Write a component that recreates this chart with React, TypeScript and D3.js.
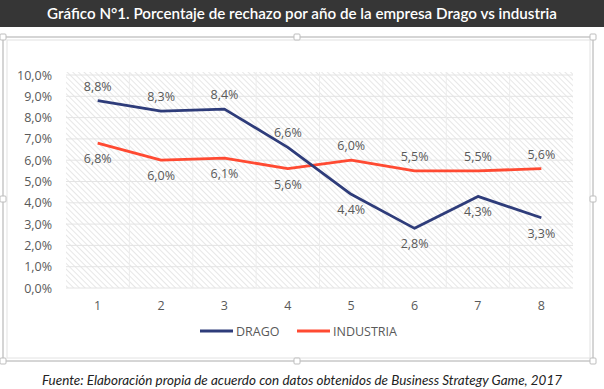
import React from "react";
import * as d3 from "d3";

const years = [1, 2, 3, 4, 5, 6, 7, 8];
const drago = [8.8, 8.3, 8.4, 6.6, 4.4, 2.8, 4.3, 3.3];
const industria = [6.8, 6.0, 6.1, 5.6, 6.0, 5.5, 5.5, 5.6];
const dragoLabelPos = ["above", "above", "above", "above", "below", "below", "below", "below"];
const industriaLabelPos = ["below", "below", "below", "below", "above", "above", "above", "above"];
const yTicks = [0, 1, 2, 3, 4, 5, 6, 7, 8, 9, 10];
const titleText = "Gráfico N°1. Porcentaje de rechazo por año de la empresa Drago vs industria";
const sourceText = "Fuente: Elaboración propia de acuerdo con datos obtenidos de Business Strategy Game, 2017";
const seriesNames = ["DRAGO", "INDUSTRIA"];

const W = 604;
const H = 389;
const plot = { left: 66, right: 573, top: 75, bottom: 288 };
const DRAGO_COLOR = "#2E3C7A";
const IND_COLOR = "#FF4A32";
const TEXT = "#595959";
const FONT = "'Open Sans', sans-serif";

const fmt = (v: number) => v.toFixed(1).replace(".", ",") + "%";

export default function App() {
  const x = d3
    .scaleBand<number>()
    .domain(years)
    .range([plot.left, plot.right]);
  const cx = (d: number) => (x(d) as number) + x.bandwidth() / 2;
  const y = d3.scaleLinear().domain([0, 10]).range([plot.bottom, plot.top]);
  const line = d3
    .line<number>()
    .x((_, i) => cx(years[i]))
    .y((d) => y(d));

  const handles = [
    [3, 37], [297, 37], [593, 37],
    [3, 199], [593, 199],
    [3, 361], [297, 361], [593, 361],
  ];

  const labels = (vals: number[], pos: string[], key: string) =>
    vals.map((v, i) => (
      <text
        key={key + i}
        x={cx(years[i])}
        y={pos[i] === "above" ? y(v) - 10 : y(v) + 20}
        textAnchor="middle"
        fontSize={12.5}
        fill={TEXT}
        fontFamily={FONT}
      >
        {fmt(v)}
      </text>
    ));

  return (
    <svg
      width={W}
      height={H}
      style={{ position: "absolute", left: 0, top: 0, background: "#fff" }}
    >
      <defs>
        <pattern id="hatch" width="4" height="4" patternUnits="userSpaceOnUse" patternTransform="rotate(-45)">
          <line x1="0" y1="0" x2="0" y2="4" stroke="#d6d6d6" strokeWidth="1.2" />
        </pattern>
      </defs>
      {/* title bar */}
      <rect x={0} y={0} width={W} height={27} fill="#363636" />
      <text
        x={W / 2}
        y={19}
        textAnchor="middle"
        fontSize={15}
        fontWeight={600}
        fill="#fff"
        fontFamily="Lato, sans-serif"
        textLength={510}
        lengthAdjust="spacingAndGlyphs"
      >
        {titleText}
      </text>

      {/* frame */}
      <rect x={3} y={37} width={590} height={324} fill="#fff" stroke="#c8c8c8" strokeWidth={1.5} />
      <rect x={7} y={40} width={583} height={318} fill="none" stroke="#e2e2e2" strokeWidth={1} />
      {handles.map(([hx, hy], i) => (
        <rect key={"h" + i} x={hx - 3} y={hy - 3} width={6} height={6} rx={1} fill="#fff" stroke="#bdbdbd" strokeWidth={1} />
      ))}

      {/* plot area */}
      <rect x={plot.left} y={plot.top - 3} width={plot.right - plot.left} height={plot.bottom - plot.top + 3} fill="url(#hatch)" />
      {yTicks.map((t) => (
        <line key={"g" + t} x1={plot.left} x2={plot.right} y1={y(t)} y2={y(t)} stroke="#e4e4e4" strokeWidth={1} />
      ))}
      {years.slice(1).map((yr) => (
        <line key={"v" + yr} x1={x(yr) as number} x2={x(yr) as number} y1={plot.top - 3} y2={plot.bottom} stroke="#ececec" strokeWidth={1} />
      ))}

      {/* axes labels */}
      {yTicks.map((t) => (
        <text key={"yl" + t} x={52} y={y(t) + 4.5} textAnchor="end" fontSize={12.5} fill={TEXT} fontFamily={FONT}>
          {fmt(t)}
        </text>
      ))}
      {years.map((yr) => (
        <text key={"xl" + yr} x={cx(yr)} y={310} textAnchor="middle" fontSize={12.5} fill={TEXT} fontFamily={FONT}>
          {yr}
        </text>
      ))}

      {/* lines */}
      <path d={line(industria) || ""} fill="none" stroke={IND_COLOR} strokeWidth={2.8} strokeLinejoin="round" />
      <path d={line(drago) || ""} fill="none" stroke={DRAGO_COLOR} strokeWidth={2.8} strokeLinejoin="round" />

      {labels(drago, dragoLabelPos, "d")}
      {labels(industria, industriaLabelPos, "i")}

      {/* legend */}
      <line x1={200} x2={233} y1={331} y2={331} stroke={DRAGO_COLOR} strokeWidth={2.8} />
      <text x={236} y={335.5} fontSize={12.5} fill={TEXT} fontFamily={FONT}>{seriesNames[0]}</text>
      <line x1={297} x2={330} y1={331} y2={331} stroke={IND_COLOR} strokeWidth={2.8} />
      <text x={333} y={335.5} fontSize={12.5} fill={TEXT} fontFamily={FONT}>{seriesNames[1]}</text>

      {/* source */}
      <text
        x={302}
        y={385}
        textAnchor="middle"
        fontSize={13}
        fontStyle="italic"
        fill="#222"
        fontFamily="Lato, sans-serif"
        textLength={520}
        lengthAdjust="spacingAndGlyphs"
      >
        {sourceText}
      </text>
    </svg>
  );
}
